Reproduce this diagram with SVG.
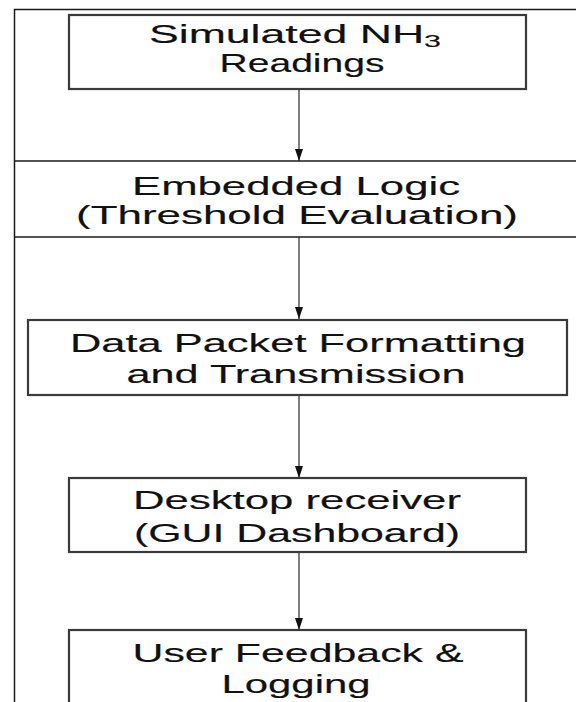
<svg xmlns="http://www.w3.org/2000/svg" width="576" height="702" viewBox="0 0 576 702">
<defs>
<style>
.frame{fill:none;stroke:#1a1a1a;stroke-width:1.5}
.box{fill:#fff;stroke:#3a3a3a;stroke-width:2.2}
.sep{stroke:#1a1a1a;stroke-width:1.5}
.edge{stroke:#555;stroke-width:1.5;fill:none}
text{font-family:"Liberation Sans",Arial,sans-serif;font-size:25px;fill:#111;stroke:#111;stroke-width:0.15;text-anchor:middle}
.sub{font-size:17px}
</style>
<marker id="ah" markerWidth="12" markerHeight="8" refX="12" refY="4" orient="auto" markerUnits="userSpaceOnUse">
<path d="M0,0 L12,4 L0,8 z" fill="#111"/>
</marker>
</defs>
<rect class="frame" x="14.5" y="9.5" width="600" height="720"/>
<g id="connectors">
<line class="edge" x1="299" y1="90" x2="299" y2="161" marker-end="url(#ah)"/>
<line class="edge" x1="299" y1="237" x2="299" y2="319" marker-end="url(#ah)"/>
<line class="edge" x1="299" y1="395" x2="299" y2="478" marker-end="url(#ah)"/>
<line class="edge" x1="299" y1="552" x2="299" y2="630" marker-end="url(#ah)"/>
</g>
<g id="node1">
<rect class="box" x="69" y="15" width="457" height="74"/>
<text x="295" y="43" textLength="292" lengthAdjust="spacingAndGlyphs">Simulated NH<tspan class="sub" dy="4">3</tspan></text>
<text x="302" y="72" textLength="165" lengthAdjust="spacingAndGlyphs">Readings</text>
</g>
<g id="node2">
<line class="sep" x1="14" y1="161" x2="576" y2="161"/>
<line class="sep" x1="14" y1="237" x2="576" y2="237"/>
<text x="296" y="195" textLength="328" lengthAdjust="spacingAndGlyphs">Embedded Logic</text>
<text x="297" y="224" textLength="442" lengthAdjust="spacingAndGlyphs">(Threshold Evaluation)</text>
</g>
<g id="node3">
<rect class="box" x="28" y="320" width="539" height="75"/>
<text x="298" y="352" textLength="456" lengthAdjust="spacingAndGlyphs">Data Packet Formatting</text>
<text x="296" y="383" textLength="339" lengthAdjust="spacingAndGlyphs">and Transmission</text>
</g>
<g id="node4">
<rect class="box" x="69" y="478" width="457" height="74"/>
<text x="297" y="509" textLength="328" lengthAdjust="spacingAndGlyphs">Desktop receiver</text>
<text x="297" y="542" textLength="326" lengthAdjust="spacingAndGlyphs">(GUI Dashboard)</text>
</g>
<g id="node5">
<rect class="box" x="69" y="630" width="457" height="90"/>
<text x="298" y="662" textLength="331" lengthAdjust="spacingAndGlyphs">User Feedback &amp;</text>
<text x="296" y="693" textLength="149" lengthAdjust="spacingAndGlyphs">Logging</text>
</g>
</svg>
